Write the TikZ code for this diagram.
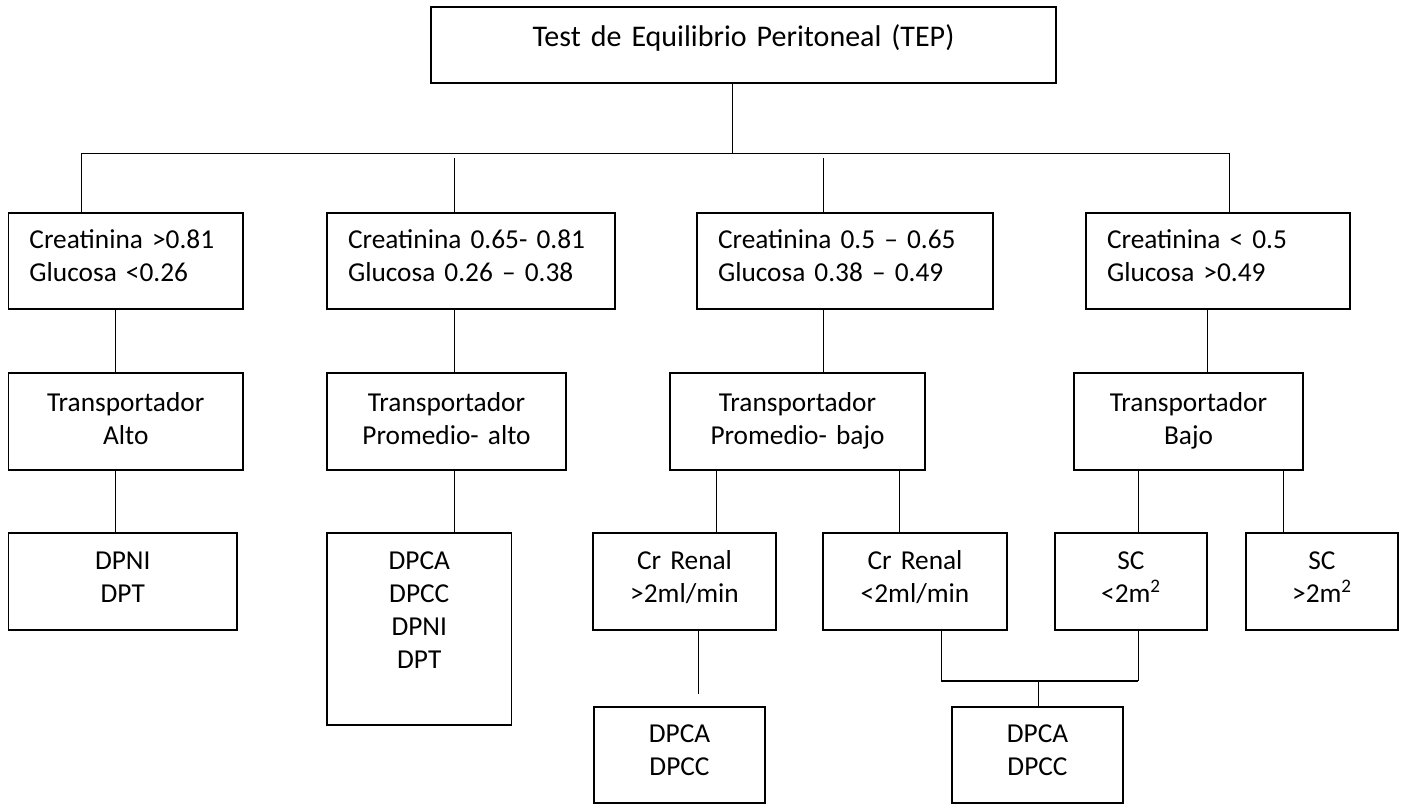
\documentclass[tikz,border=0pt]{standalone}
\usepackage{fontspec}
\setmainfont{Carlito}[WordSpace=0.85]

\tikzset{every picture/.style={line width=0.75pt}}
\tikzset{
  pbox/.style={draw, line width=0.9pt, inner xsep=0pt, inner ysep=0pt, align=center, anchor=base, font=\fontsize{20.5}{24.75}\selectfont},
  lbox/.style={pbox, inner xsep=15.75pt, align=left},
}

\begin{document}
\begin{tikzpicture}[x=0.75pt,y=0.75pt,yscale=-1,xscale=1]
\useasboundingbox (0,0) rectangle (1403,804);

%Shape: Rectangle
\node[pbox, font=\fontsize{22.5}{27}\selectfont, text width=468.75pt, text height=29.25pt, text depth=27.75pt] (tep) at (743.5,46) {Test de Equilibrio Peritoneal (TEP)};

% Creatinina / Glucosa
\node[lbox, text width=144.4pt, text height=26.6pt, text depth=45.4pt] (cr1) at (125.75,248.5) {Creatinina >0.81\\Glucosa <0.26};
\node[lbox, text width=184.5pt, text height=26.6pt, text depth=45.4pt] (cr2) at (471,248.5) {Creatinina 0.65- 0.81\\Glucosa 0.26 – 0.38};
\node[lbox, text width=190.5pt, text height=26.6pt, text depth=45.4pt] (cr3) at (845,248.5) {Creatinina 0.5 – 0.65\\Glucosa 0.38 – 0.49};
\node[lbox, text width=166.5pt, text height=26.6pt, text depth=45.4pt] (cr4) at (1218,248.5) {Creatinina < 0.5\\Glucosa >0.49};

% Transportador
\node[pbox, text width=175.9pt, text height=28.9pt, text depth=43.9pt] (tr1) at (125.75,411.5) {Transportador\\Alto};
\node[pbox, text width=179.25pt, text height=28.9pt, text depth=43.9pt] (tr2) at (446.5,411.5) {Transportador\\Promedio- alto};
\node[pbox, text width=191.25pt, text height=28.9pt, text depth=43.9pt] (tr3) at (797.5,411.5) {Transportador\\Promedio- bajo};
\node[pbox, text width=171.75pt, text height=28.9pt, text depth=43.9pt] (tr4) at (1188.5,411.5) {Transportador\\Bajo};

% Modalidad / criterio
\node[pbox, text width=171.4pt, text height=27.4pt, text depth=45.4pt] (mod1) at (122.75,569.5) {DPNI\\DPT};
\node[pbox, text width=138.4pt, text height=27.4pt, text depth=116.6pt] (mod2) at (419.25,569.5) {DPCA\\DPCC\\DPNI\\DPT};
\node[pbox, text width=137.25pt, text height=27.4pt, text depth=45.4pt] (ren1) at (684.5,569.5) {Cr Renal\\>2ml/min};
\node[pbox, text width=138pt, text height=27.4pt, text depth=45.4pt] (ren2) at (915,569.5) {Cr Renal\\<2ml/min};
\node[pbox, text width=114pt, text height=27.4pt, text depth=45.4pt] (sc1) at (1131,569.5) {SC\\<2m\textsuperscript{2}};
\node[pbox, text width=114pt, text height=27.4pt, text depth=45.4pt] (sc2) at (1322,569.5) {SC\\>2m\textsuperscript{2}};

% DPCA / DPCC
\node[pbox, text width=128.25pt, text height=26.25pt, text depth=45.75pt] (dp1) at (679.5,742) {DPCA\\DPCC};
\node[pbox, text width=128.25pt, text height=26.25pt, text depth=45.75pt] (dp2) at (1037.5,742) {DPCA\\DPCC};

% connector points
\coordinate (hub) at (732,153);
\coordinate (busl) at (81,153);
\coordinate (busr) at (1229,153);
\coordinate (gap2) at (454.5,158);
\coordinate (gap3) at (823,158);
\coordinate (col1) at (115,0);
\coordinate (col4) at (1207,0);
\coordinate (ren1x) at (716,0);
\coordinate (ren2x) at (899,0);
\coordinate (sc2x) at (1283,0);
\coordinate (end1) at (698,694);
\coordinate (joinl) at (941,681);
\coordinate (joinr) at (1138,681);
\coordinate (joinm) at (1038,681);

%Straight Lines
\draw (tep.south -| hub) -- (hub);
\draw (cr1.north -| busl) -- (busl) -- (busr) -- (cr4.north -| busr);
\draw (gap2) -- (cr2.north -| gap2);
\draw (gap3) -- (cr3.north -| gap3);

\draw (cr1.south -| col1) -- (tr1.north -| col1);
\draw (cr2.south -| gap2) -- (tr2.north -| gap2);
\draw (cr3.south -| gap3) -- (tr3.north -| gap3);
\draw (cr4.south -| col4) -- (tr4.north -| col4);

\draw (tr1.south -| col1) -- (mod1.north -| col1);
\draw (tr2.south -| gap2) -- (mod2.north -| gap2);
\draw (tr3.south -| ren1x) -- (ren1.north -| ren1x);
\draw (tr3.south -| ren2x) -- (ren2.north -| ren2x);
\draw (tr4.south -| joinr) -- (sc1.north -| joinr);
\draw (tr4.south -| sc2x) -- (sc2.north -| sc2x);

\draw (ren1.south -| end1) -- (end1);
\draw (ren2.south -| joinl) -- (joinl);
\draw (sc1.south -| joinr) -- (joinr);
\draw [line width=1.5pt] (joinl) -- (joinr);
\draw (joinm) -- (dp2.north -| joinm);

\end{tikzpicture}
\end{document}
